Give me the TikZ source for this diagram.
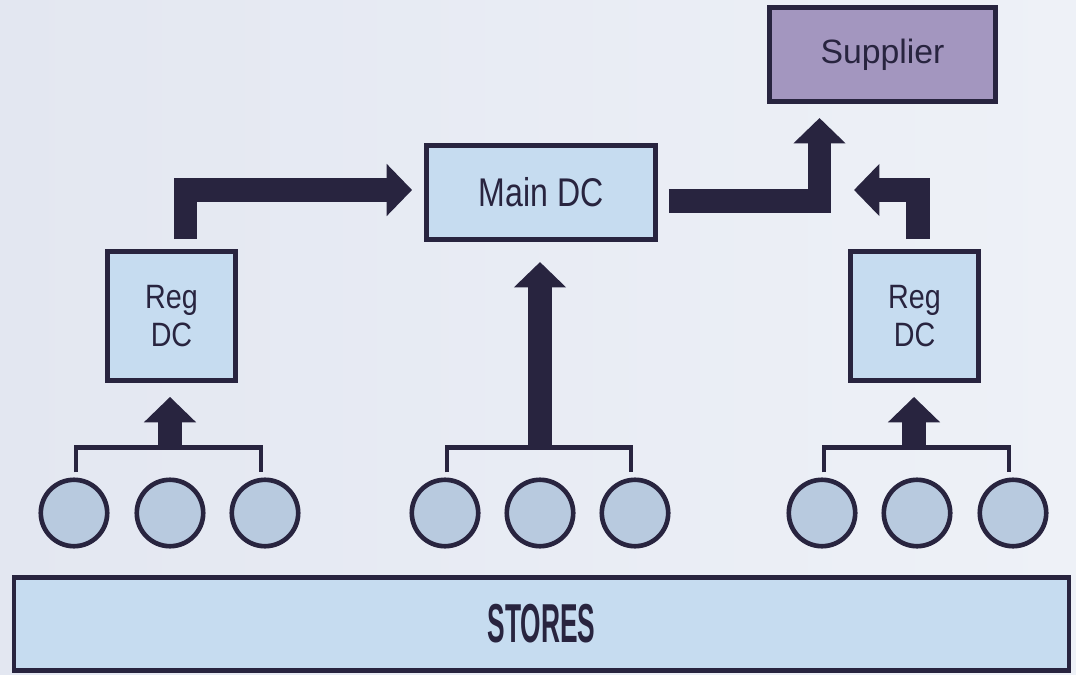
\documentclass[tikz,border=0pt]{standalone}
\usepackage{fontspec}
\setmainfont{Liberation Sans}[FakeStretch=0.85]
\newfontfamily\widefont{Liberation Sans}
\newfontfamily\narrowfont{Liberation Sans}[FakeStretch=0.8]
\newfontfamily\storesfont{Liberation Sans}[FakeStretch=0.48]
\usetikzlibrary{arrows.meta,calc,shadows}
\definecolor{navy}{HTML}{28243F}
\definecolor{boxblue}{HTML}{C6DCF0}
\definecolor{dotblue}{HTML}{B8CADF}
\definecolor{supplierpurple}{HTML}{A396BF}
\definecolor{bgdark}{HTML}{E3E7F1}
\definecolor{bglight}{HTML}{EEF1F7}
\tikzset{
  dcbox/.style={draw=navy, line width=3.3pt, fill=boxblue, text=navy, align=center, inner sep=0pt},
  regbox/.style={dcbox, minimum width=3.21cm, minimum height=3.23cm, font=\fontsize{24pt}{27.5pt}\selectfont},
  storedot/.style={circle, draw=navy, line width=3.3pt, fill=dotblue, minimum size=1.66cm, inner sep=0pt,
    drop shadow={shadow xshift=0pt, shadow yshift=-1.5pt, opacity=0.3, fill=navy}},
  fatarrow/.style={draw=navy, line width=17pt, line join=miter, -{Triangle[width=36pt,length=18pt]}},
  bracketline/.style={draw=navy, line width=3.5pt, line join=miter}
}
\begin{document}
\begin{tikzpicture}[x=0.025cm,y=-0.025cm]
\shade[left color=bgdark, right color=bglight] (0,0) rectangle (1076,675);
\useasboundingbox (0,0) rectangle (1076,675);

\node[dcbox, fill=supplierpurple, minimum width=5.66cm, minimum height=2.36cm,
  font=\widefont\fontsize{24pt}{28pt}\selectfont] (supplier) at (882.5,54.5) {Supplier};
\node[dcbox, minimum width=5.73cm, minimum height=2.36cm,
  font=\narrowfont\fontsize{28.5pt}{32pt}\selectfont] (main) at (541,192.5) {Main DC};
\node[regbox] (lreg) at (171.5,316) {Reg\\DC};
\node[regbox] (rreg) at (914.5,316) {Reg\\DC};
\node[dcbox, minimum width=26.36cm, minimum height=2.33cm,
  font=\storesfont\bfseries\fontsize{39pt}{40pt}\selectfont] (stores) at (541.5,624) {STORES};

\foreach \x [count=\i] in {74,170,265} \node[storedot] (l\i) at (\x,513) {};
\foreach \x [count=\i] in {445,540,635} \node[storedot] (m\i) at (\x,513) {};
\foreach \x [count=\i] in {822,917,1013} \node[storedot] (r\i) at (\x,513) {};

\foreach \g in {l,m,r}
  \draw[bracketline] ($(\g1.north)+(2,-5)$) -- ++(0,-25) -| ($(\g3.north)+(-4,-5)$);

\draw[fatarrow] ($(l2.north)+(0,-27.5)$) -- ($(l2.north |- lreg.south)+(0,14)$);
\draw[fatarrow] ($(r2.north)+(-3,-27.5)$) -- ($(r2.north |- rreg.south)+(-3,14)$);
\draw[fatarrow] ($(m2.north)+(0,-27.5)$) -- ($(m2.north |- main.south)+(0,20)$);

\draw[fatarrow] ($(lreg.north)+(14,-10)$) |- ($(main.west)+(-12,-2.5)$);
\draw[fatarrow] ($(main.east)+(11,8.5)$) -| ($(supplier.south)+(-63,14)$);
\coordinate (rtip) at (854,190);
\draw[fatarrow] ($(rreg.north)+(3.5,-10)$) |- (rtip);
\end{tikzpicture}
\end{document}
